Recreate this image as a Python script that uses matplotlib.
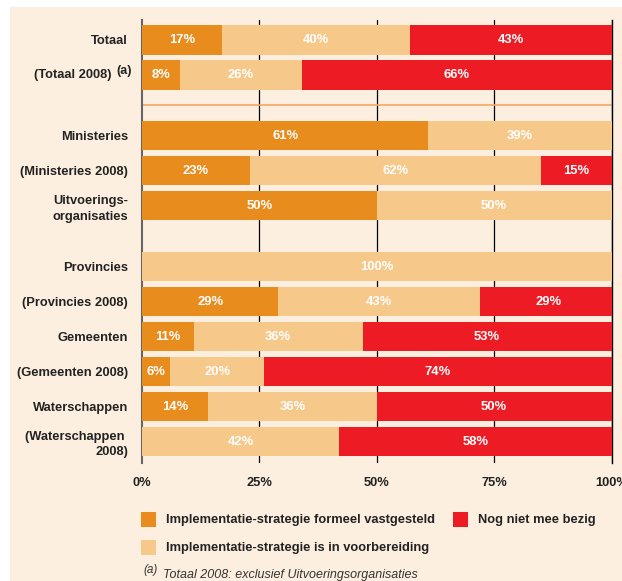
import numpy as np
import matplotlib.pyplot as plt
from matplotlib.patches import Rectangle

plt.rcParams['font.family'] = ['Liberation Sans', 'DejaVu Sans']

categories = ['Totaal', '(Totaal 2008)', 'Ministeries', '(Ministeries 2008)',
              'Uitvoerings-\norganisaties', 'Provincies', '(Provincies 2008)',
              'Gemeenten', '(Gemeenten 2008)', 'Waterschappen',
              '(Waterschappen \n2008)']
groups = [0, 0, 1, 1, 1, 2, 2, 2, 2, 2, 2]

vastgesteld = [17, 8, 61, 23, 50, 0, 29, 11, 6, 14, 0]
voorbereiding = [40, 26, 39, 62, 50, 100, 43, 36, 20, 36, 42]
niet_bezig = [43, 66, 0, 15, 0, 0, 29, 53, 74, 50, 58]

series = [vastgesteld, voorbereiding, niet_bezig]
series_names = ['Implementatie-strategie formeel vastgesteld',
                'Implementatie-strategie is in voorbereiding',
                'Nog niet mee bezig']
colors = ['#E88C1E', '#F6C98A', '#ED1C24']
bg = '#FDEFE0'

xticks = [0, 25, 50, 75, 100]
xticklabels = ['0%', '25%', '50%', '75%', '100%']

W, H = 622, 581
fig = plt.figure(figsize=(W / 100, H / 100), dpi=100, facecolor='white')
fig.add_artist(Rectangle((10 / W, 0), 1, 1 - 7 / H, transform=fig.transFigure,
                         facecolor=bg, edgecolor='none', zorder=-10))

ax = fig.add_axes([142 / W, 1 - 463 / H, 469.5 / W, 443 / H])
ax.set_facecolor(bg)

y = np.arange(len(categories)) + np.array(groups) * 0.74
left = np.zeros(len(categories))
for vals, col in zip(series, colors):
    vals = np.array(vals, dtype=float)
    ax.barh(y, vals, left=left, height=0.83, color=col, zorder=3)
    for yi, l, v in zip(y, left, vals):
        if v > 0:
            ax.text(l + v / 2, yi, f'{int(v)}%', ha='center', va='center',
                    color='white', fontweight='bold', fontsize=9.4, zorder=4)
    left += vals

ax.set_xlim(0, 100)
ax.set_ylim(12.086, -0.571)

# separator between Totaal block and the rest
ax.axhline(1.857, color='#F5A860', lw=1.2, zorder=2)

for xv in xticks[1:]:
    ax.axvline(xv, color='black', lw=0.9, zorder=1)

ax.set_xticks(xticks)
ax.set_xticklabels(xticklabels, fontweight='bold', fontsize=9.3, color='#222222')
ax.set_yticks(y)
labels = list(categories)
labels[1] = ''
ax.set_yticklabels(labels, fontweight='bold', fontsize=9.3, color='#222222',
                   linespacing=1.35)
ax.tick_params(axis='both', length=0)
ax.tick_params(axis='y', pad=10)
ax.tick_params(axis='x', pad=10)

# label with footnote marker
ax.text(-10 / 469.5 * 100, y[1] - 0.1, '(a)', ha='right', va='center',
        fontweight='bold', fontsize=9.0, color='#222222', clip_on=False)
ax.text(-31 / 469.5 * 100, y[1], categories[1], ha='right', va='center',
        fontweight='bold', fontsize=9.3, color='#222222', clip_on=False)

for s in ['top', 'bottom']:
    ax.spines[s].set_visible(False)
ax.spines['left'].set_color('#666666')
ax.spines['left'].set_linewidth(1.5)
ax.spines['right'].set_color('black')
ax.spines['right'].set_linewidth(1.0)

# legend
legend_pos = [(141, 512), (141, 540), (453, 512)]
for (px, py), col, name in zip(legend_pos, colors, series_names):
    fig.add_artist(Rectangle((px / W, 1 - (py + 15) / H), 15 / W, 15 / H,
                             transform=fig.transFigure, facecolor=col,
                             edgecolor='none'))
    fig.text((px + 25) / W, 1 - (py + 7.5) / H, name, ha='left', va='center',
             fontweight='bold', fontsize=9.3, color='#222222')

fig.text(143 / W, 1 - 570 / H, '(a)', ha='left', va='center',
         fontstyle='italic', fontsize=8.5, color='#333333')
fig.text(163 / W, 1 - 575 / H, 'Totaal 2008: exclusief Uitvoeringsorganisaties',
         ha='left', va='center', fontstyle='italic', fontsize=9, color='#333333')

fig.savefig('out.png', dpi=100, facecolor=fig.get_facecolor())
